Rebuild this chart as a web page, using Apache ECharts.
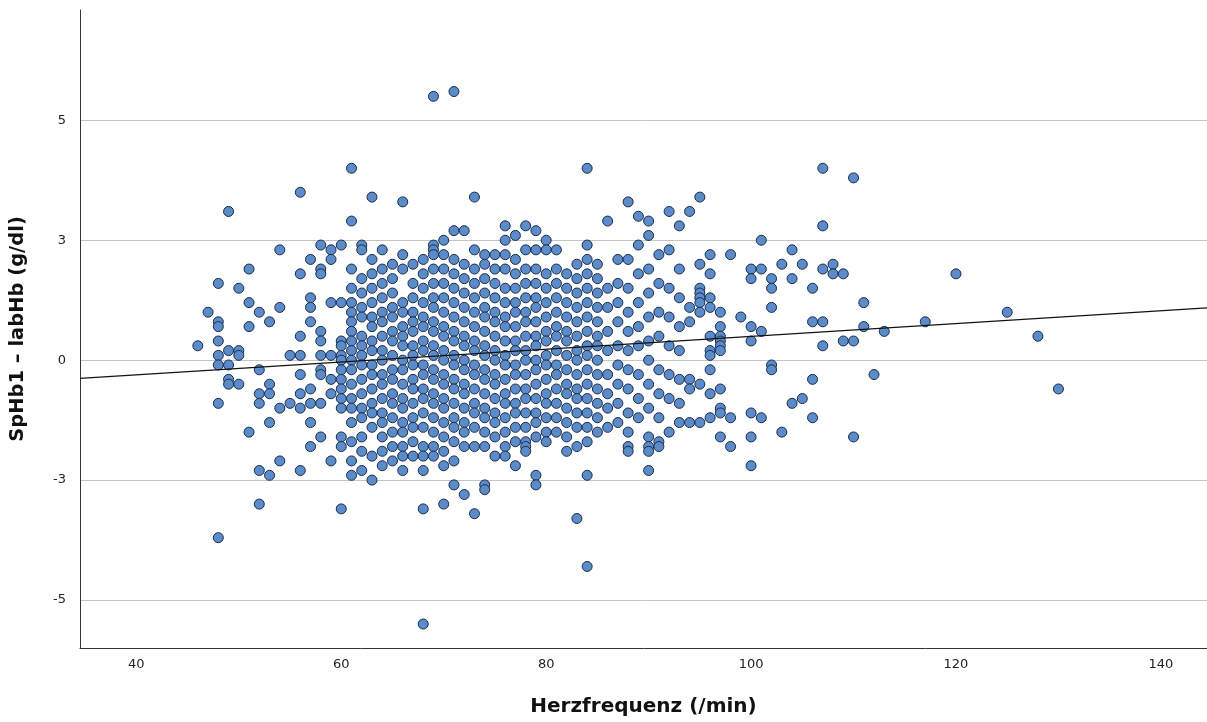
<!DOCTYPE html>
<html>
<head>
<meta charset="utf-8">
<script src="https://cdn.jsdelivr.net/npm/echarts@6/dist/echarts.min.js"></script>
<style>
  html, body { margin: 0; padding: 0; background: #fff; }
  #chart { width: 1207px; height: 722px; }
</style>
</head>
<body>
<div id="chart"></div>
<script>
// SpHb1 − labHb differences (g/dl), grouped by heart rate (/min).
// Index inside each decade array = heart rate − decade start.
const diffs40s = [
  [], [], [], [], [], [],
  [0.3],
  [1.0],
  [1.6, 0.8, 0.7, 0.4, 0.1, -0.1, -0.9, -3.7],
  [3.1, 0.2, -0.1, -0.4, -0.5]
];
const diffs50s = [
  [1.5, 0.2, 0.1, -0.5],
  [1.9, 1.2, 0.7, -1.5],
  [1.0, -0.2, -0.7, -0.9, -2.3, -3.0],
  [0.8, -0.5, -0.7, -1.3, -2.4],
  [2.3, 1.1, -1.0, -2.1],
  [0.1, -0.9],
  [3.5, 1.8, 0.5, 0.1, -0.3, -0.7, -1.0, -2.3],
  [2.1, 1.3, 1.1, 0.8, -0.6, -0.9, -1.3, -1.8],
  [2.4, 1.9, 1.8, 0.6, 0.4, 0.1, -0.2, -0.3, -0.9, -1.6],
  [2.3, 2.1, 1.2, 0.1, -0.4, -0.7, -2.1]
];
const diffs60s = [
  [2.4, 1.2, 0.4, 0.3, 0.1, 0.0, -0.2, -0.4, -0.6, -0.8, -1.0, -1.6, -1.8, -3.1],
  [4.0, 2.9, 1.9, 1.5, 1.2, 1.0, 0.8, 0.6, 0.4, 0.2, 0.0, -0.2, -0.5, -0.8, -1.0, -1.3, -1.7, -2.1, -2.4],
  [2.4, 2.3, 1.7, 1.4, 1.1, 0.9, 0.5, 0.3, 0.1, -0.1, -0.4, -0.7, -1.0, -1.2, -1.6, -1.9, -2.3],
  [3.4, 2.1, 1.8, 1.5, 1.2, 0.9, 0.7, 0.4, 0.2, -0.1, -0.3, -0.6, -0.9, -1.1, -1.4, -2.0, -2.5],
  [2.3, 1.9, 1.6, 1.3, 1.0, 0.8, 0.5, 0.2, 0.0, -0.3, -0.5, -0.8, -1.1, -1.3, -1.6, -1.9, -2.2],
  [2.0, 1.7, 1.4, 1.1, 0.9, 0.6, 0.4, 0.1, -0.2, -0.4, -0.7, -0.9, -1.2, -1.5, -1.8, -2.1],
  [3.3, 2.2, 1.9, 1.2, 1.0, 0.7, 0.5, 0.3, 0.0, -0.2, -0.5, -0.8, -1.0, -1.3, -1.5, -1.8, -2.0, -2.3],
  [2.0, 1.6, 1.3, 1.0, 0.8, 0.6, 0.3, 0.1, -0.1, -0.4, -0.6, -0.9, -1.2, -1.4, -1.7, -2.0],
  [2.1, 1.8, 1.5, 1.2, 0.9, 0.7, 0.4, 0.2, -0.1, -0.3, -0.6, -0.8, -1.1, -1.4, -1.8, -2.0, -2.3, -3.1, -5.5],
  [5.5, 2.4, 2.3, 2.2, 1.9, 1.6, 1.3, 1.1, 0.8, 0.6, 0.3, 0.1, -0.2, -0.4, -0.7, -0.9, -1.2, -1.5, -1.8, -2.0]
];
const diffs70s = [
  [2.5, 2.2, 1.9, 1.6, 1.3, 1.0, 0.7, 0.5, 0.2, 0.0, -0.3, -0.5, -0.8, -1.0, -1.3, -1.6, -1.9, -2.2, -3.0],
  [5.6, 2.7, 2.1, 1.8, 1.5, 1.2, 0.9, 0.6, 0.4, 0.1, -0.1, -0.4, -0.6, -0.9, -1.2, -1.4, -1.7, -2.1, -2.6],
  [2.7, 2.0, 1.7, 1.4, 1.1, 0.8, 0.5, 0.3, 0.0, -0.2, -0.5, -0.7, -1.0, -1.3, -1.5, -1.8, -2.8],
  [3.4, 2.3, 1.9, 1.6, 1.3, 1.0, 0.7, 0.4, 0.2, -0.1, -0.3, -0.6, -0.9, -1.1, -1.4, -1.8, -3.2],
  [2.2, 2.0, 1.7, 1.4, 1.1, 0.9, 0.6, 0.3, 0.1, -0.2, -0.4, -0.7, -1.0, -1.2, -1.5, -1.8, -2.6, -2.7],
  [2.2, 1.9, 1.6, 1.3, 1.0, 0.8, 0.5, 0.2, 0.0, -0.3, -0.5, -0.8, -1.1, -1.3, -1.6, -2.0],
  [2.8, 2.5, 2.2, 1.9, 1.5, 1.2, 0.9, 0.7, 0.4, 0.1, -0.1, -0.4, -0.7, -0.9, -1.2, -1.5, -1.8, -2.0],
  [2.6, 2.1, 1.8, 1.5, 1.2, 1.0, 0.7, 0.4, 0.2, -0.1, -0.3, -0.6, -0.9, -1.1, -1.4, -1.7, -2.2],
  [2.8, 2.3, 1.9, 1.6, 1.3, 1.0, 0.8, 0.5, 0.2, 0.0, -0.3, -0.6, -0.8, -1.1, -1.4, -1.7, -1.8, -1.9],
  [2.7, 2.3, 1.9, 1.6, 1.3, 1.1, 0.8, 0.5, 0.3, 0.0, -0.2, -0.5, -0.8, -1.1, -1.3, -1.6, -2.4, -2.6]
];
const diffs80s = [
  [2.5, 2.3, 1.8, 1.5, 1.2, 0.9, 0.6, 0.4, 0.1, -0.1, -0.4, -0.7, -0.9, -1.2, -1.5, -1.7],
  [2.3, 1.9, 1.6, 1.3, 1.0, 0.7, 0.5, 0.2, -0.1, -0.3, -0.6, -0.9, -1.2, -1.5],
  [1.8, 1.5, 1.2, 0.9, 0.6, 0.4, 0.1, -0.2, -0.5, -0.7, -1.0, -1.3, -1.6, -1.9],
  [2.0, 1.7, 1.4, 1.1, 0.8, 0.5, 0.2, 0.0, -0.3, -0.6, -0.8, -1.1, -1.4, -1.8, -3.3],
  [4.0, 2.4, 2.1, 1.8, 1.5, 1.2, 0.9, 0.6, 0.3, 0.1, -0.2, -0.5, -0.8, -1.1, -1.4, -1.7, -2.4, -4.3],
  [2.0, 1.7, 1.4, 1.1, 0.8, 0.5, 0.3, 0.0, -0.3, -0.6, -0.9, -1.2, -1.5],
  [2.9, 1.5, 1.1, 0.6, 0.2, -0.3, -0.7, -1.0, -1.4],
  [2.1, 1.6, 1.2, 0.8, 0.3, -0.1, -0.5, -0.9, -1.3],
  [3.3, 2.1, 1.5, 1.0, 0.6, 0.2, -0.2, -0.6, -1.1, -1.5, -1.8, -1.9],
  [3.0, 2.4, 1.8, 1.2, 0.7, 0.3, -0.3, -0.8, -1.2]
];
const diffs90s = [
  [2.9, 2.6, 1.9, 1.4, 0.9, 0.4, 0.0, -0.5, -1.0, -1.6, -1.8, -1.9, -2.3],
  [2.2, 1.6, 1.0, 0.5, -0.2, -0.7, -1.2, -1.7, -1.8],
  [3.1, 2.3, 1.5, 0.9, 0.3, -0.3, -0.8, -1.5],
  [2.8, 1.9, 1.3, 0.7, 0.2, -0.4, -0.9, -1.3],
  [3.1, 1.1, 0.8, -0.4, -0.6, -1.3],
  [3.4, 2.0, 1.5, 1.4, 1.3, 1.2, 1.0, -0.5, -1.3],
  [2.2, 1.8, 1.3, 1.1, 0.5, 0.2, 0.1, -0.2, -0.7, -1.2],
  [1.0, 0.7, 0.5, 0.4, 0.3, 0.2, -0.6, -1.0, -1.1, -1.6],
  [2.2, -1.2, -1.8],
  [0.9]
];
const diffs100s = [
  [1.9, 1.7, 0.7, 0.4, -1.1, -1.6, -2.2],
  [2.5, 1.9, 0.6, -1.2],
  [1.7, 1.5, 1.1, -0.1, -0.2],
  [2.0, -1.5],
  [2.3, 1.7, -0.9],
  [2.0, -0.8],
  [1.5, 0.8, -0.4, -1.2],
  [4.0, 2.8, 1.9, 0.8, 0.3],
  [2.0, 1.8],
  [1.8, 0.4]
];
const diffs110s = [
  [3.8, 0.4, -1.6],
  [1.2, 0.7],
  [-0.3],
  [0.6],
  [], [], [],
  [0.8],
  [], []
];
const diffs120s = [
  [1.8], [], [], [], [],
  [1.0], [], [],
  [0.5], []
];
const diffs130s = [
  [-0.6]
];

// Linear fit drawn across the plot: diff = fitIntercept + fitSlope * rate
const fitIntercept = -0.838;
const fitSlope = 0.01334;

// Axis ranges and tick values
const xRange = [34.5, 144.5];
const yRange = [-6, 7.3];
const xTicks = [40, 60, 80, 100, 120, 140];
const yTicks = [-5, -2.5, 0, 2.5, 5];

const decades = [
  [40, diffs40s], [50, diffs50s], [60, diffs60s], [70, diffs70s], [80, diffs80s],
  [90, diffs90s], [100, diffs100s], [110, diffs110s], [120, diffs120s], [130, diffs130s]
];
const points = [];
decades.forEach(([start, cols]) => {
  cols.forEach((vals, i) => {
    vals.forEach(v => points.push([start + i, v]));
  });
});

const fitLine = xRange.map(x => [x, fitIntercept + fitSlope * x]);

const chart = echarts.init(document.getElementById('chart'), null, { renderer: 'canvas' });
const fontFam = '"DejaVu Sans", "Noto Sans", sans-serif';

chart.setOption({
  animation: false,
  backgroundColor: '#ffffff',
  grid: {
    left: 80, right: 0, top: 10, bottom: 74,
    containLabel: false,
    outerBoundsMode: 'none'
  },
  xAxis: {
    type: 'value',
    min: xRange[0], max: xRange[1],
    name: 'Herzfrequenz (/min)',
    nameLocation: 'middle',
    nameGap: 49,
    nameTextStyle: { fontFamily: fontFam, fontSize: 20, fontWeight: 'bold', color: '#111' },
    axisLine: { show: true, onZero: false, lineStyle: { color: '#333', width: 1 } },
    axisTick: { show: false, customValues: xTicks },
    axisLabel: {
      customValues: xTicks,
      fontFamily: fontFam, fontSize: 13, color: '#222', margin: 10
    },
    splitLine: { show: false }
  },
  yAxis: {
    type: 'value',
    min: yRange[0], max: yRange[1],
    name: 'SpHb1 – labHb (g/dl)',
    nameLocation: 'middle',
    nameRotate: 90,
    nameGap: 52,
    nameTextStyle: { fontFamily: fontFam, fontSize: 19.5, fontWeight: 'bold', color: '#111' },
    axisLine: { show: true, onZero: false, lineStyle: { color: '#333', width: 1 } },
    axisTick: { show: false, customValues: yTicks },
    axisLabel: {
      customValues: yTicks,
      fontFamily: fontFam, fontSize: 13, color: '#222', margin: 14,
      formatter: v => (v < 0 ? '-' : '') + Math.round(Math.abs(v))
    },
    splitLine: { show: true, lineStyle: { color: '#c4c4c4', width: 1 } }
  },
  series: [
    {
      type: 'scatter',
      data: points,
      symbol: 'circle',
      symbolSize: 10,
      itemStyle: { color: '#5a8ccc', borderColor: '#1b2b48', borderWidth: 1, opacity: 1 },
      z: 2
    },
    {
      type: 'line',
      data: fitLine,
      showSymbol: false,
      symbol: 'none',
      lineStyle: { color: '#111', width: 1.3 },
      z: 3
    }
  ]
});
</script>
</body>
</html>
